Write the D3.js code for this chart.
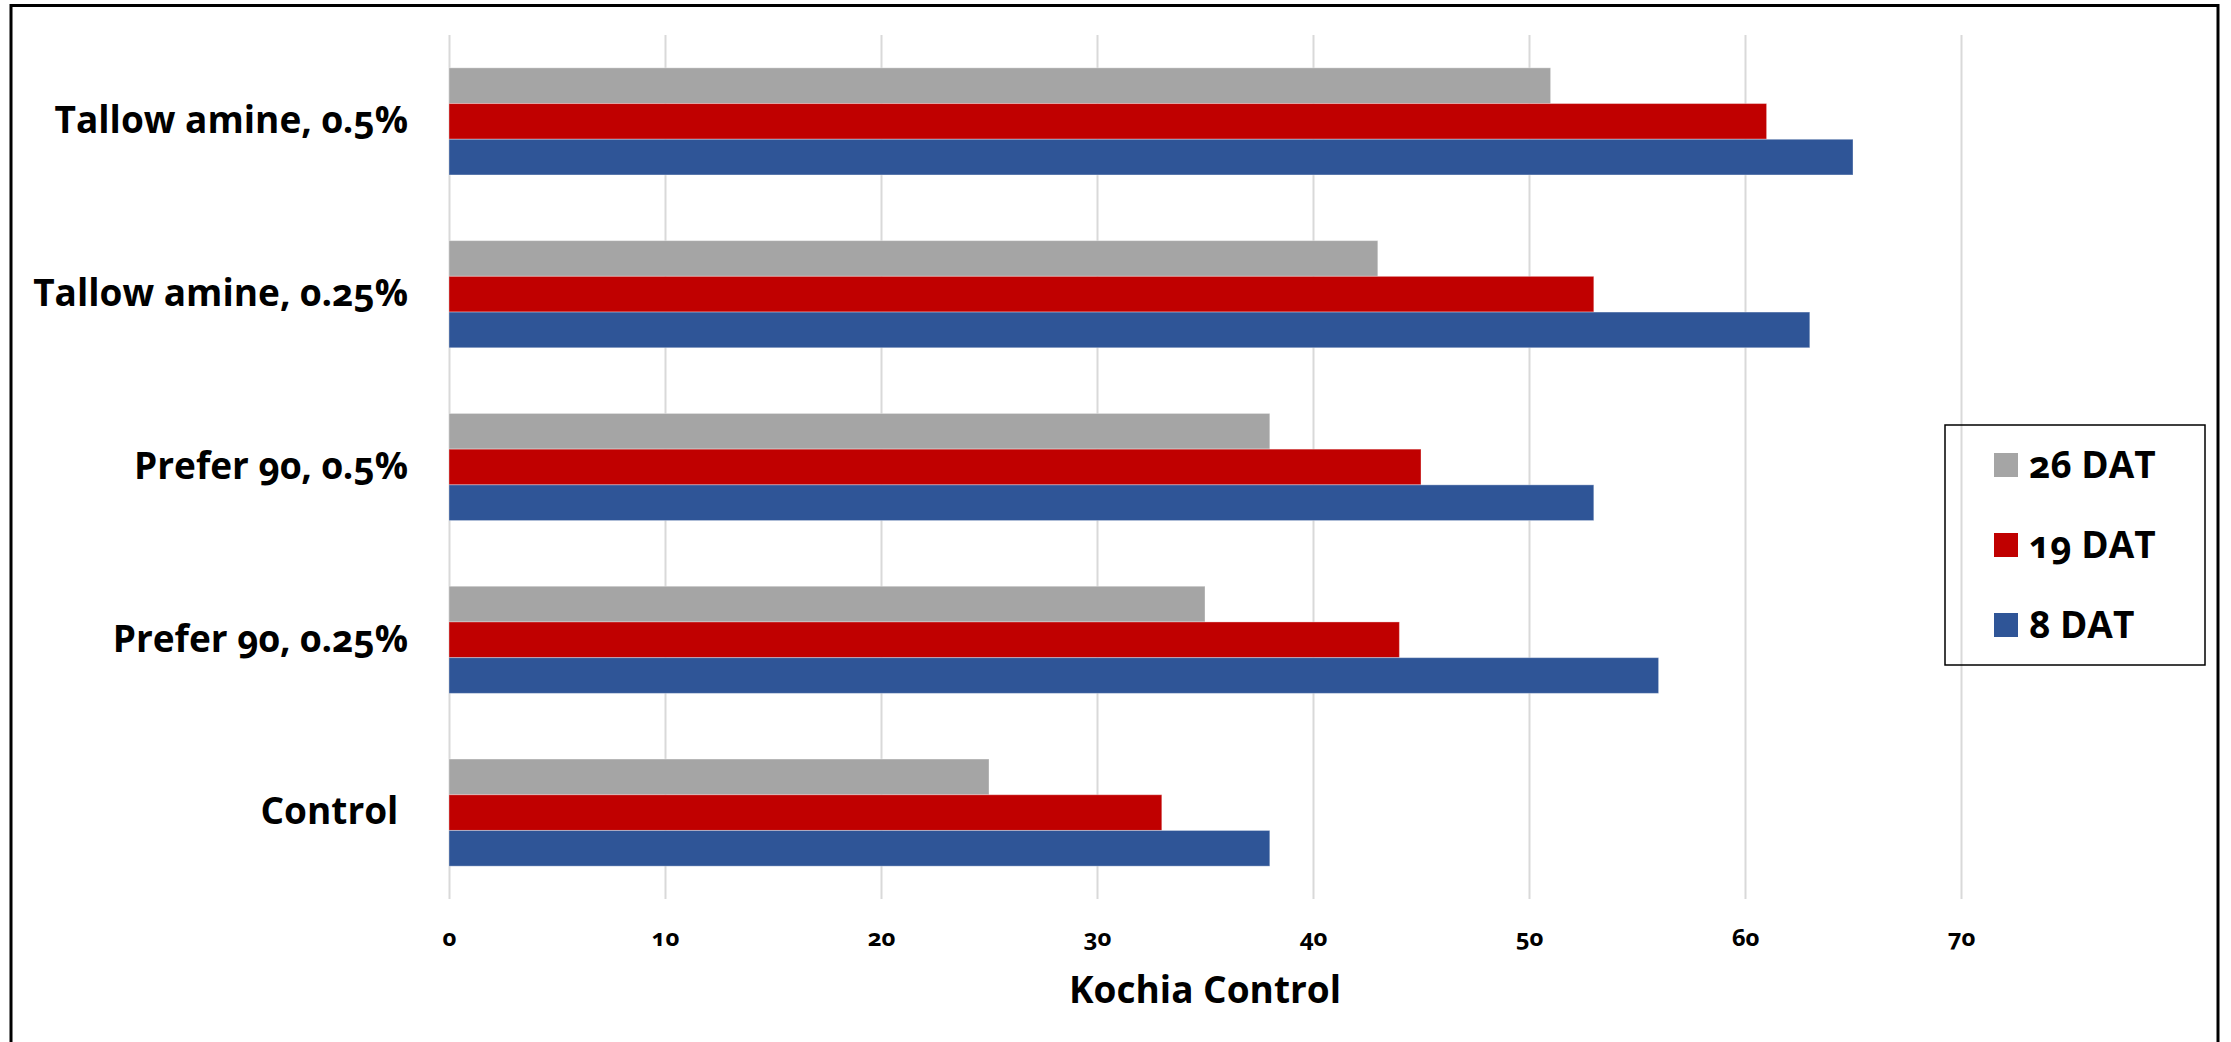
<!DOCTYPE html>
<html lang="en">
<head>
    <meta charset="UTF-8">
    <title>Kochia Control</title>
    <script src="https://d3js.org/d3.v7.min.js"></script>
    <style>
        body {
            margin: 0;
            background: #fff;
            overflow: hidden;
        }
        svg text {
            font-family: 'Open Sans', 'Lato', sans-serif;
            font-weight: 700;
            fill: #000;
            font-feature-settings: "onum" 1;
            font-variant-numeric: oldstyle-nums;
        }
        .grid line {
            stroke: #d9d9d9;
            stroke-width: 2px;
        }
    </style>
</head>
<body>
    <div id="chart"></div>

    <script>
        // data
        const categories = ["Tallow amine, 0.5%", "Tallow amine, 0.25%", "Prefer 90, 0.5%", "Prefer 90, 0.25%", "Control\u00a0"];
        const seriesNames = ["26 DAT", "19 DAT", "8 DAT"];
        const seriesColors = ["#a5a5a5", "#c00000", "#2f5597"];
        const dat26 = [51, 43, 38, 35, 25];
        const dat19 = [61, 53, 45, 44, 33];
        const dat8 = [65, 63, 53, 56, 38];
        const xTicks = [0, 10, 20, 30, 40, 50, 60, 70];
        const xTitle = "Kochia Control";

        const width = 2231, height = 1042;
        const plot = { left: 449, right: 1961, top: 35, bottom: 899 };

        const svg = d3.select("#chart").append("svg")
            .attr("width", width)
            .attr("height", height);

        // outer frame
        svg.append("rect")
            .attr("x", 11).attr("y", 5.5)
            .attr("width", 2207).attr("height", 1100)
            .attr("fill", "none")
            .attr("stroke", "#000")
            .attr("stroke-width", 3);

        const x = d3.scaleLinear().domain([0, 70]).range([plot.left, plot.right]);
        const y = d3.scaleBand().domain(categories)
            .range([plot.top, plot.bottom])
            .paddingInner(0.38).paddingOuter(0.19);
        const ySub = d3.scaleBand().domain(seriesNames).range([0, y.bandwidth()]);

        // gridlines + tick labels
        const gx = svg.append("g")
            .attr("class", "grid")
            .attr("transform", `translate(0,${plot.bottom})`)
            .call(d3.axisBottom(x).tickValues(xTicks).tickSize(-(plot.bottom - plot.top)));
        gx.select(".domain").remove();
        gx.selectAll("text")
            .attr("y", 47).attr("dy", 0)
            .style("font-size", "24px");

        // category labels
        const gy = svg.append("g")
            .attr("transform", `translate(${plot.left},0)`)
            .call(d3.axisLeft(y).tickSize(0).tickPadding(41));
        gy.select(".domain").remove();
        gy.selectAll("text").style("font-size", "37px");

        // bars
        const rows = categories.map((c, i) => ({
            cat: c,
            vals: [dat26[i], dat19[i], dat8[i]]
        }));

        const groups = svg.selectAll(".grp")
            .data(rows)
            .enter().append("g")
            .attr("class", "grp")
            .attr("transform", d => `translate(0,${y(d.cat)})`);

        groups.selectAll("rect")
            .data(d => d.vals.map((v, j) => ({ name: seriesNames[j], v: v, color: seriesColors[j] })))
            .enter().append("rect")
            .attr("x", x(0))
            .attr("y", d => ySub(d.name))
            .attr("width", d => x(d.v) - x(0))
            .attr("height", ySub.bandwidth())
            .attr("fill", d => d.color)
            .attr("stroke", "rgba(255,255,255,0.35)")
            .attr("stroke-width", 1);

        // axis title
        svg.append("text")
            .attr("x", (plot.left + plot.right) / 2)
            .attr("y", 1003)
            .attr("text-anchor", "middle")
            .style("font-size", "37px")
            .text(xTitle);

        // legend
        const legend = svg.append("g");
        legend.append("rect")
            .attr("x", 1945).attr("y", 425)
            .attr("width", 260).attr("height", 240)
            .attr("fill", "none")
            .attr("stroke", "#000")
            .attr("stroke-width", 1.5);

        const items = legend.selectAll(".item")
            .data(seriesNames)
            .enter().append("g")
            .attr("class", "item")
            .attr("transform", (d, i) => `translate(1994,${465 + i * 80})`);

        items.append("rect")
            .attr("x", 0).attr("y", -12)
            .attr("width", 24).attr("height", 24)
            .attr("fill", (d, i) => seriesColors[i]);

        items.append("text")
            .attr("x", 35).attr("y", 13)
            .style("font-size", "37px")
            .text(d => d);
    </script>
</body>
</html>
